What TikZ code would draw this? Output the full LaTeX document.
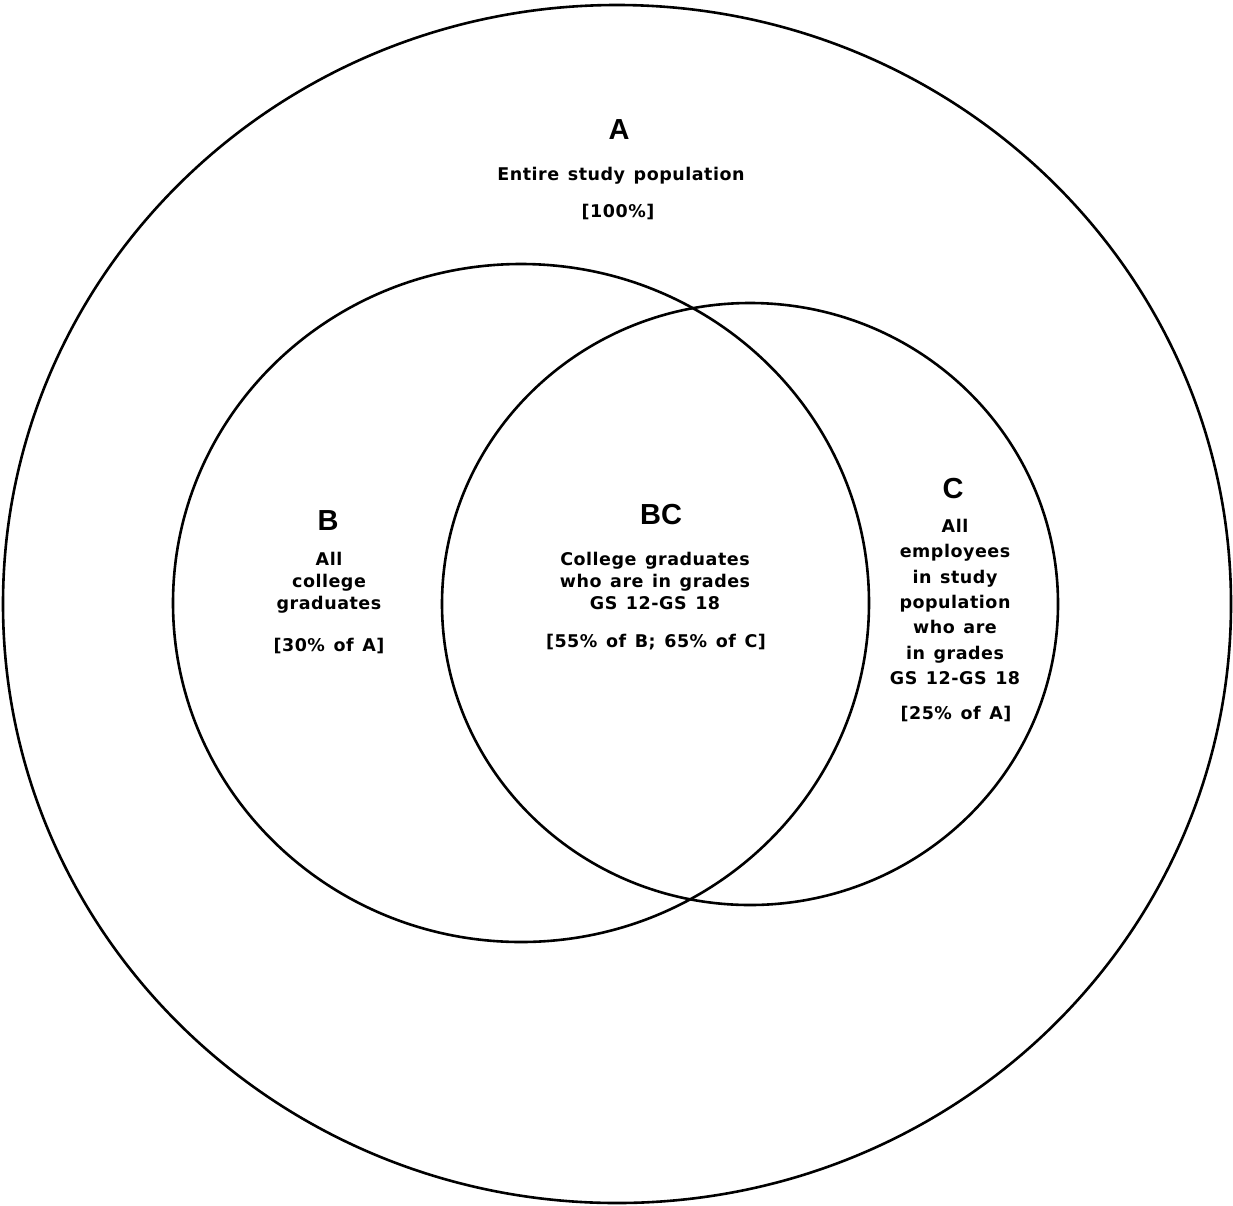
\documentclass[tikz,border=0pt]{standalone}
\usepackage{fontspec}
\setmainfont{Liberation Sans}
\newfontfamily\bodyfont[LetterSpace=3,WordSpace=1.3]{DejaVu Sans}
\newfontfamily\labelfont{Liberation Sans}
\begin{document}
\begin{tikzpicture}[x=1pt,y=-1pt,
  ring/.style={draw=black,line width=2.6pt},
  biglabel/.style={font=\labelfont\fontsize{29}{30}\selectfont\bfseries,inner sep=0pt},
  body/.style={font=\bodyfont\fontsize{17.5}{22}\selectfont\bfseries,align=center,inner sep=0pt},
  bodyc/.style={font=\bodyfont\fontsize{17.5}{25.3}\selectfont\bfseries,align=center,inner sep=0pt}]
\useasboundingbox (0,0) rectangle (1233,1205);
\fill[white] (0,0) rectangle (1233,1205);
\draw[ring] (617,604) ellipse [x radius=614, y radius=599];
\draw[ring] (521,603) ellipse [x radius=348, y radius=339];
\draw[ring] (750,604) ellipse [x radius=308, y radius=301];
% A
\node[biglabel] (la) at (619,130) {A};
\node[body] (ta) at (621,176) {Entire study population};
\node[body] (pa) at (618,212) {[100\%]};
% B
\node[biglabel] (lb) at (328,521) {B};
\node[body] (tb) at (329,583) {All\\college\\graduates};
\node[body] (pb) at (329,646) {[30\% of A]};
% BC
\node[biglabel] (lbc) at (661,515) {BC};
\node[body] (tbc) at (655,581) {College graduates\\who are in grades\\GS 12-GS 18};
\node[body] (pbc) at (656,642) {[55\% of B; 65\% of C]};
% C
\node[biglabel] (lc) at (953,489) {C};
\node[bodyc] (tc) at (955,602) {All\\employees\\in study\\population\\who are\\in grades\\GS 12-GS 18};
\node[body] (pc) at (956,714) {[25\% of A]};
\end{tikzpicture}
\end{document}
